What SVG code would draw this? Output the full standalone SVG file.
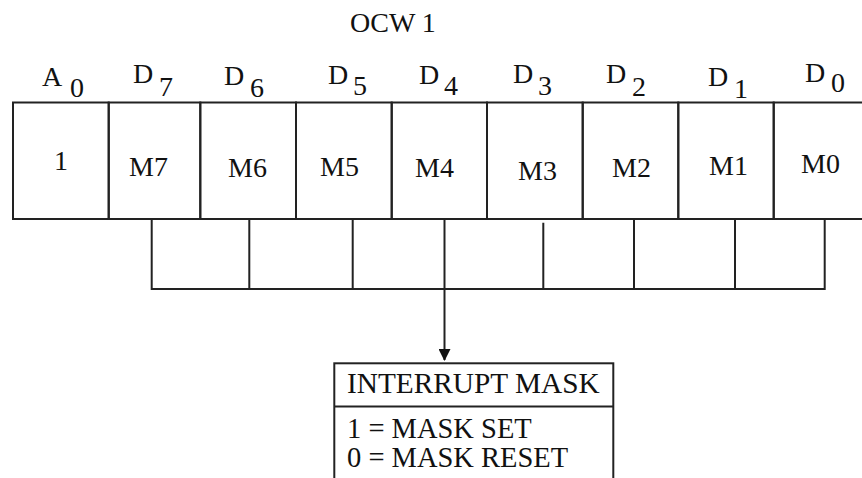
<svg xmlns="http://www.w3.org/2000/svg" width="862" height="478" viewBox="0 0 862 478">
<defs>
<style>
.c{fill:none;stroke:#222;stroke-width:2}
.t{font-family:"Liberation Serif","Times New Roman",serif;font-size:28px;fill:#111}
.b{font-family:"Liberation Serif","Times New Roman",serif;font-size:28.5px;fill:#111}
</style>
<marker id="ah" viewBox="0 0 12 12" refX="11" refY="6" markerWidth="12" markerHeight="12" markerUnits="userSpaceOnUse" orient="auto">
<path d="M0,0 L12,6 L0,12 Z" fill="#111"/>
</marker>
</defs>
<rect width="862" height="478" fill="#fff"/>
<text class="t" x="350" y="32">OCW 1</text>
<g id="cell-a0"><rect class="c" x="13" y="102.5" width="95.7" height="116.5"/><text class="t" x="42" y="86">A</text><text class="t" x="70" y="97">0</text><text class="t" x="54" y="170">1</text></g>
<g id="cell-d7"><rect class="c" x="108.7" y="102.5" width="91.6" height="116.5"/><text class="t" x="133" y="83">D</text><text class="t" x="159" y="96">7</text><text class="t" x="129" y="176">M7</text></g>
<g id="cell-d6"><rect class="c" x="200.3" y="102.5" width="95.7" height="116.5"/><text class="t" x="224" y="85">D</text><text class="t" x="250" y="97">6</text><text class="t" x="228" y="177">M6</text></g>
<g id="cell-d5"><rect class="c" x="296" y="102.5" width="95.7" height="116.5"/><text class="t" x="328" y="84">D</text><text class="t" x="353" y="95">5</text><text class="t" x="320" y="176">M5</text></g>
<g id="cell-d4"><rect class="c" x="391.7" y="102.5" width="95.3" height="116.5"/><text class="t" x="419" y="84">D</text><text class="t" x="444" y="95">4</text><text class="t" x="415" y="177">M4</text></g>
<g id="cell-d3"><rect class="c" x="487" y="102.5" width="95.7" height="116.5"/><text class="t" x="513" y="83">D</text><text class="t" x="538" y="95">3</text><text class="t" x="518" y="180">M3</text></g>
<g id="cell-d2"><rect class="c" x="582.7" y="102.5" width="95.6" height="116.5"/><text class="t" x="606" y="83">D</text><text class="t" x="632" y="96">2</text><text class="t" x="612" y="177">M2</text></g>
<g id="cell-d1"><rect class="c" x="678.3" y="102.5" width="95.4" height="116.5"/><text class="t" x="708" y="86">D</text><text class="t" x="734" y="98">1</text><text class="t" x="709" y="175">M1</text></g>
<g id="cell-d0"><rect class="c" x="773.7" y="102.5" width="100" height="116.5"/><text class="t" x="805" y="82">D</text><text class="t" x="831" y="92">0</text><text class="t" x="801" y="173">M0</text></g>
<g id="connectors">
<path class="c" d="M151.7,219 V289 H824.7 V219 M249.3,219 V289 M352.7,219 V289 M543.3,222.7 V289 M634,219 V289 M735,219 V289"/>
<line class="c" x1="444.5" y1="219" x2="444.5" y2="360" marker-end="url(#ah)"/>
</g>
<g id="interrupt-mask">
<rect class="c" x="334.3" y="363.3" width="279" height="130"/>
<line class="c" x1="334.3" y1="406.5" x2="613.3" y2="406.5"/>
<text class="t" x="347" y="393" style="font-size:29.3px">INTERRUPT MASK</text>
<text class="b" x="347" y="438">1 = MASK SET</text>
<text class="b" x="347" y="467">0 = MASK RESET</text>
</g>
</svg>
